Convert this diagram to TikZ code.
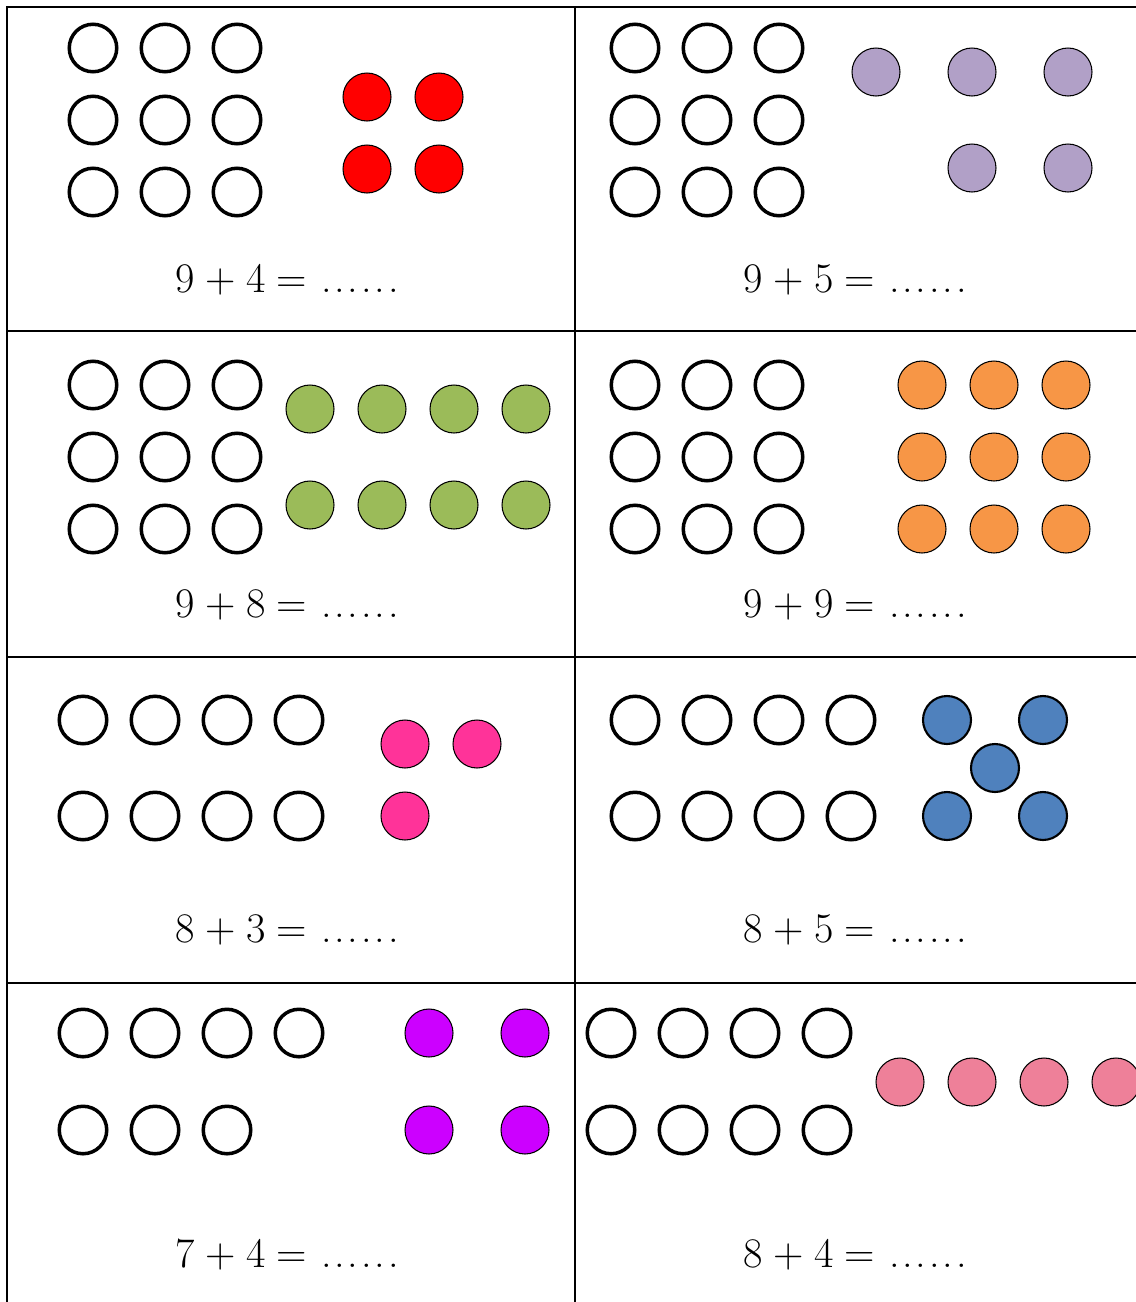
\documentclass[tikz,border=0pt]{standalone}
\usepackage{tikz}
\usetikzlibrary{positioning}
\definecolor{beadred}{HTML}{FF0000}
\definecolor{beadlilac}{HTML}{B1A0C7}
\definecolor{beadgreen}{HTML}{9BBB59}
\definecolor{beadorange}{HTML}{F79646}
\definecolor{beadpink}{HTML}{FF3399}
\definecolor{beadblue}{HTML}{4F81BD}
\definecolor{beadviolet}{HTML}{CC00FF}
\definecolor{beadrose}{HTML}{EE8099}
\newcommand{\sumdots}{.\kern1.6pt.\kern1.6pt.\kern1.6pt.\kern1.6pt.\kern1.6pt.}
\newcommand{\sumtext}[2]{#1\hspace{0.25em}+\hspace{0.25em}#2\hspace{0.25em}=\hspace{0.35em}\sumdots}
\tikzset{
  gridline/.style={line width=1.2pt, black},
  beadempty/.style={
    circle, draw, line width=2pt, fill=white,
    minimum size=0.95cm, inner sep=0pt
  },
  beadfill/.style={
    circle, draw, line width=0.6pt,
    minimum size=0.96cm, inner sep=0pt
  },
  sumlabel/.style={
    font=\fontsize{24}{29}\selectfont, inner sep=0pt
  },
}

\begin{document}
\begin{tikzpicture}[x=0.02cm, y=-0.02cm]
  \useasboundingbox (0,0) rectangle (1136,1302);
  \clip (0,0) rectangle (1136,1302);

  % Grid
  \coordinate (gTL) at (7,7);
  \coordinate (gTR) at (1136,7);
  \coordinate (gBL) at (7,1302);
  \coordinate (gMT) at (575,7);
  \coordinate (gMB) at (575,1302);
  \draw[gridline] (gTR) -- (gTL) -- (gBL);
  \draw[gridline] (gMT) -- (gMB);
  \foreach \yy [count=\i] in {331,657,983} {
    \coordinate (rowL\i) at (7,\yy);
    \coordinate (rowR\i) at (1136,\yy);
    \draw[gridline] (rowL\i) -- (rowR\i);
  }

  % Panel 1: 9 + 4
  \foreach \cx [count=\i] in {93,165,237}
    \foreach \cy [count=\j] in {48,120,192}
      \node[beadempty] (pA-\i-\j) at (\cx,\cy) {};
  \foreach \cx [count=\i] in {367,439}
    \foreach \cy [count=\j] in {97,169}
      \node[beadfill, fill=beadred] (qA-\i-\j) at (\cx,\cy) {};
  \node[sumlabel] (sumA) at (287,280) {\sumtext{9}{4}};

  % Panel 2: 9 + 5
  \foreach \cx [count=\i] in {635,707,779}
    \foreach \cy [count=\j] in {48,120,192}
      \node[beadempty] (pB-\i-\j) at (\cx,\cy) {};
  \node[beadfill, fill=beadlilac] (qB-1) at (876,72) {};
  \node[beadfill, fill=beadlilac] (qB-2) at (972,72) {};
  \node[beadfill, fill=beadlilac] (qB-3) at (1068,72) {};
  \node[beadfill, fill=beadlilac] (qB-4) at (972,168) {};
  \node[beadfill, fill=beadlilac] (qB-5) at (1068,168) {};
  \node[sumlabel] (sumB) at (855,280) {\sumtext{9}{5}};

  % Panel 3: 9 + 8
  \foreach \cx [count=\i] in {93,165,237}
    \foreach \cy [count=\j] in {385,457,529}
      \node[beadempty] (pC-\i-\j) at (\cx,\cy) {};
  \foreach \cx [count=\i] in {310,382,454,526}
    \foreach \cy [count=\j] in {409,505}
      \node[beadfill, fill=beadgreen] (qC-\i-\j) at (\cx,\cy) {};
  \node[sumlabel] (sumC) at (287,605) {\sumtext{9}{8}};

  % Panel 4: 9 + 9
  \foreach \cx [count=\i] in {635,707,779}
    \foreach \cy [count=\j] in {385,457,529}
      \node[beadempty] (pD-\i-\j) at (\cx,\cy) {};
  \foreach \cx [count=\i] in {922,994,1066}
    \foreach \cy [count=\j] in {385,457,529}
      \node[beadfill, fill=beadorange] (qD-\i-\j) at (\cx,\cy) {};
  \node[sumlabel] (sumD) at (855,605) {\sumtext{9}{9}};

  % Panel 5: 8 + 3
  \foreach \cx [count=\i] in {83,155,227,299}
    \foreach \cy [count=\j] in {720,816}
      \node[beadempty] (pE-\i-\j) at (\cx,\cy) {};
  \node[beadfill, fill=beadpink] (qE-1) at (405,744) {};
  \node[beadfill, fill=beadpink] (qE-2) at (477,744) {};
  \node[beadfill, fill=beadpink] (qE-3) at (405,816) {};
  \node[sumlabel] (sumE) at (287,930) {\sumtext{8}{3}};

  % Panel 6: 8 + 5
  \foreach \cx [count=\i] in {635,707,779,851}
    \foreach \cy [count=\j] in {720,816}
      \node[beadempty] (pF-\i-\j) at (\cx,\cy) {};
  \node[beadfill, line width=1.2pt, fill=beadblue] (qF-1) at (947,720) {};
  \node[beadfill, line width=1.2pt, fill=beadblue] (qF-2) at (1043,720) {};
  \node[beadfill, line width=1.2pt, fill=beadblue] (qF-3) at (995,768) {};
  \node[beadfill, line width=1.2pt, fill=beadblue] (qF-4) at (947,816) {};
  \node[beadfill, line width=1.2pt, fill=beadblue] (qF-5) at (1043,816) {};
  \node[sumlabel] (sumF) at (855,930) {\sumtext{8}{5}};

  % Panel 7: 7 + 4
  \foreach \cx [count=\i] in {83,155,227,299}
    \node[beadempty] (pG-\i-1) at (\cx,1033) {};
  \foreach \cx [count=\i] in {83,155,227}
    \node[beadempty] (pG-\i-2) at (\cx,1130) {};
  \foreach \cx [count=\i] in {429,525}
    \foreach \cy [count=\j] in {1033,1130}
      \node[beadfill, fill=beadviolet] (qG-\i-\j) at (\cx,\cy) {};
  \node[sumlabel] (sumG) at (287,1255) {\sumtext{7}{4}};

  % Panel 8: 8 + 4
  \foreach \cx [count=\i] in {611,683,755,827}
    \foreach \cy [count=\j] in {1033,1130}
      \node[beadempty] (pH-\i-\j) at (\cx,\cy) {};
  \foreach \cx [count=\i] in {900,972,1044,1116}
    \node[beadfill, fill=beadrose] (qH-\i) at (\cx,1082) {};
  \node[sumlabel] (sumH) at (855,1255) {\sumtext{8}{4}};
\end{tikzpicture}
\end{document}
